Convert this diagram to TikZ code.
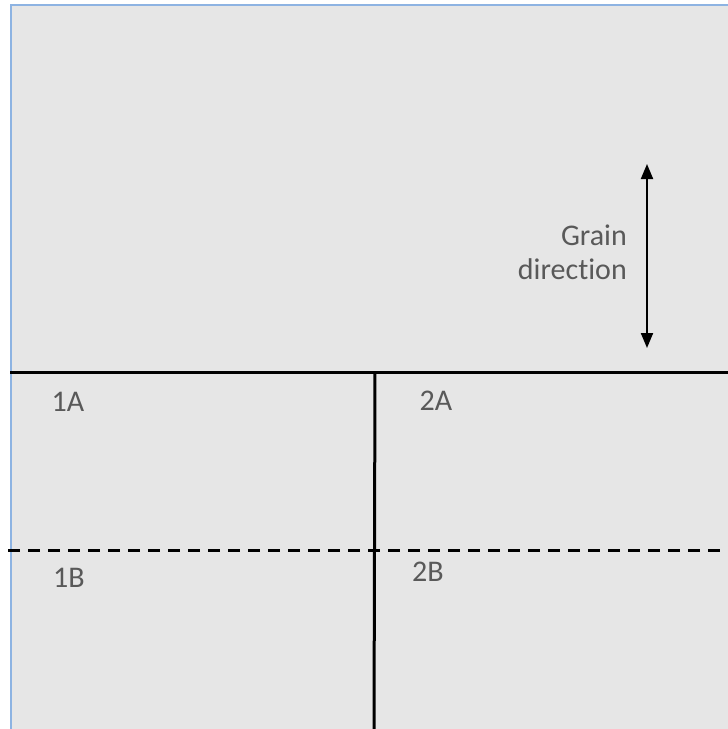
\documentclass[tikz,border=0pt]{standalone}
\usepackage{fontspec}
\setmainfont{Carlito}[Ligatures={NoCommon}]
\usetikzlibrary{positioning, calc, arrows.meta}
\definecolor{sheetgray}{HTML}{E6E6E6}
\definecolor{edgeblue}{HTML}{8DB3E2}
\definecolor{labelgray}{HTML}{595959}

\begin{document}
\begin{tikzpicture}[x=1pt, y=-1pt, >={Triangle[length=15pt, width=12pt]}]
    \tikzset{
        cutline/.style={line width=3pt, black},
        piece/.style={text=labelgray, font=\fontsize{30}{34}\selectfont, inner sep=0pt}
    }
    \useasboundingbox (0,0) rectangle (728,729);

    % Sheet
    \fill[sheetgray] (11,5) rectangle (728,729);
    \draw[edgeblue, line width=2pt] (11,729) -- (11,5) -- (728,5);

    % Cut lines
    \coordinate (hL) at (10,372);
    \coordinate (hR) at (728,372);
    \coordinate (vT) at (375,372);
    \coordinate (vB) at (374,729);
    \coordinate (dL) at (8,550);
    \coordinate (dR) at (728,550);
    \draw[cutline] (hL) -- (hR);
    \draw[cutline] (vT) -- (vB);
    \draw[cutline, dash pattern=on 12pt off 8pt] (dL) -- (dR);

    % Pieces
    \node[piece] (p1A) at (68,402) {1A};
    \node[piece] (p2A) at (436,401) {2A};
    \node[piece] (p1B) at (69,578) {1B};
    \node[piece] (p2B) at (428,572) {2B};

    % Grain direction
    \coordinate (gTop) at (647,164);
    \coordinate (gBot) at (647,348);
    \draw[<->, line width=2pt] (gTop) -- (gBot);
    \node[piece, align=right, anchor=east] (grain) at (627,252) {Grain\\direction};

\end{tikzpicture}
\end{document}
